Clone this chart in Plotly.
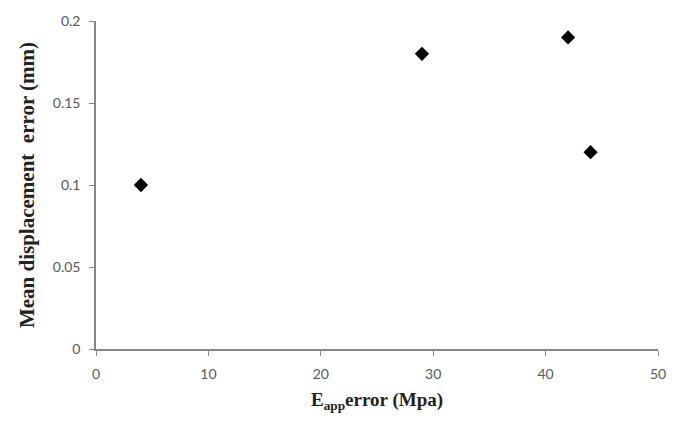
import plotly.graph_objects as go

x_vals = [4, 29, 42, 44]
y_vals = [0.10, 0.18, 0.19, 0.12]
x_ticks = [0, 10, 20, 30, 40, 50]
y_ticks = [0, 0.05, 0.1, 0.15, 0.2]
y_tick_text = ["0", "0.05", "0.1", "0.15", "0.2"]

fig = go.Figure(go.Scatter(
    x=x_vals, y=y_vals, mode="markers",
    marker=dict(symbol="diamond", size=11, color="black"),
    showlegend=False,
))

tick_font = dict(family="Lato, Open Sans, sans-serif", size=14, color="#595959")
x_title_font = dict(family="Liberation Serif, Times New Roman, serif", size=19, color="#222222")
y_title_font = dict(family="Liberation Serif, Times New Roman, serif", size=21, color="#222222")

fig.update_layout(
    width=678, height=432,
    margin=dict(l=96, r=15, t=19, b=83),
    paper_bgcolor="white", plot_bgcolor="white",
    xaxis=dict(
        range=[0, 50], tickvals=x_ticks, showgrid=False, zeroline=False,
        showline=True, linecolor="#868686", linewidth=1.5,
        ticks="outside", ticklen=5, tickcolor="#868686",
        tickfont=tick_font, ticklabelstandoff=6,
        title=dict(text="<b>E<sub>app</sub>error (Mpa)</b>", font=x_title_font, standoff=12),
    ),
    yaxis=dict(
        range=[0, 0.2], tickvals=y_ticks, ticktext=y_tick_text,
        showgrid=False, zeroline=False,
        showline=True, linecolor="#868686", linewidth=1.5,
        ticks="outside", ticklen=5, tickcolor="#868686",
        tickfont=tick_font, ticklabelstandoff=6,
        title=dict(text="<b>Mean displacement  error (mm)</b>", font=y_title_font, standoff=12),
    ),
)

fig.write_html("out.html")
